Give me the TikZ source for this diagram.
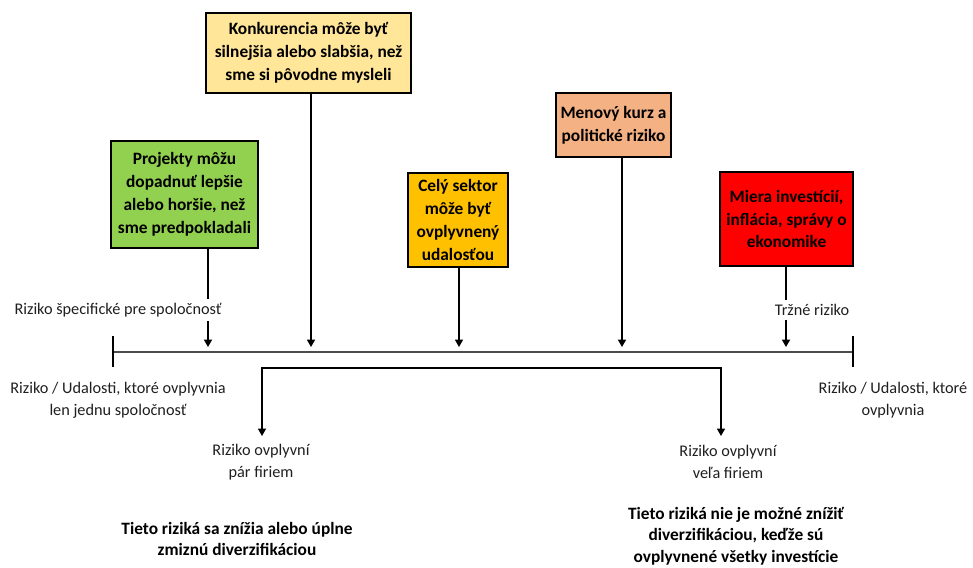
\documentclass[tikz,border=0pt]{standalone}
\usepackage{fontspec}
\setmainfont{Carlito}
\usetikzlibrary{arrows.meta}
\definecolor{boxgreen}{HTML}{92D050}
\definecolor{boxsand}{HTML}{FFE699}
\definecolor{boxorange}{HTML}{FFC000}
\definecolor{boxsalmon}{HTML}{F4B183}
\definecolor{boxred}{HTML}{FF0000}
\begin{document}
\begin{tikzpicture}[x=0.75pt,y=-0.75pt,
  riskbox/.style={draw=black, line width=2pt, align=center, inner sep=0pt,
    font=\bfseries\fontsize{13}{17.2}\selectfont},
  lbl/.style={align=center, inner xsep=1pt, inner ysep=3pt,
    font=\fontsize{12.2}{16.5}\selectfont, text=black!88},
  note/.style={align=center, inner sep=1pt,
    font=\bfseries\fontsize{13}{16.3}\selectfont},
  link/.style={line width=1pt, draw=black},
  tip/.style={-{Triangle[width=6pt,length=5.5pt]}},
  bothtips/.style={{Triangle[width=6pt,length=5.5pt]}-{Triangle[width=6pt,length=5.5pt]}}]
\useasboundingbox (0,0) rectangle (973,567);

% risk sources
\node[riskbox, fill=boxgreen, minimum width=110.25pt, minimum height=80.25pt]
  (proj) at (184.5,194.5) {Projekty môžu\\dopadnuť lepšie\\alebo horšie, než\\sme predpokladali};
\node[riskbox, fill=boxsand, minimum width=153.75pt, minimum height=60pt]
  (konk) at (308.5,53) {Konkurencia môže byť\\silnejšia alebo slabšia, než\\sme si pôvodne mysleli};
\node[riskbox, fill=boxorange, minimum width=75pt, minimum height=70.5pt]
  (sekt) at (458,220) {Celý sektor\\môže byť\\ovplyvnený\\udalosťou};
\node[riskbox, fill=boxsalmon, minimum width=86.25pt, minimum height=48pt]
  (kurz) at (613.5,125) {Menový kurz a\\politické riziko};
\node[riskbox, fill=boxred, minimum width=99.75pt, minimum height=70.5pt]
  (trh) at (786.5,219) {Miera investícií,\\inflácia, správy o\\ekonomike};

% points where the arrows meet the scale
\coordinate (c1) at (208,347);
\coordinate (c2) at (311,347);
\coordinate (c3) at (459,347);
\coordinate (c4) at (622,347);
\coordinate (c5) at (786,347);

% category labels
\node[lbl] (lspec) at (118,310) {Riziko špecifické pre spoločnosť};
\node[lbl] (ltrh) at (812,310) {Tržné riziko};

% arrows from sources to the scale
\draw[link] (proj.south -| c1) -- (lspec.north -| c1);
\draw[link,tip] (lspec.south -| c1) -- (c1);
\draw[link,tip] (konk.south -| c2) -- (c2);
\draw[link,tip] (sekt.south -| c3) -- (c3);
\draw[link,tip] (kurz.south -| c4) -- (c4);
\draw[link] (trh.south -| c5) -- (ltrh.north -| c5);
\draw[link,tip] (ltrh.south -| c5) -- (c5);

% the scale with its end ticks
\coordinate (sl) at (113,352);
\coordinate (sr) at (853,352);
\coordinate (slt) at (113,336);
\coordinate (slb) at (113,367);
\coordinate (srt) at (853,336);
\coordinate (srb) at (853,367);
\draw[line width=1pt, draw=black!70] (sl) -- (sr);
\draw[link] (slt) -- (slb);
\draw[link] (srt) -- (srb);

\node[lbl] (lone) at (118,400) {Riziko / Udalosti, ktoré ovplyvnia\\len jednu spoločnosť};
\node[lbl] (lall) at (893,400) {Riziko / Udalosti, ktoré\\ovplyvnia};

% bracket splitting into few / many firms
\coordinate (bl) at (262,368);
\coordinate (br) at (721,368);
\coordinate (al) at (262,436);
\coordinate (ar) at (721,436);
\draw[link,bothtips] (al) -- (bl) -- (br) -- (ar);

\node[lbl] (lfew) at (261,462) {Riziko ovplyvní\\pár firiem};
\node[lbl] (lmany) at (728,462) {Riziko ovplyvní\\veľa firiem};

\node[note] (nfew) at (237,539) {Tieto riziká sa znížia alebo úplne\\zmiznú diverzifikáciou};
\node[note] (nmany) at (736,536) {Tieto riziká nie je možné znížiť\\diverzifikáciou, keďže sú\\ovplyvnené všetky investície};
\end{tikzpicture}
\end{document}
